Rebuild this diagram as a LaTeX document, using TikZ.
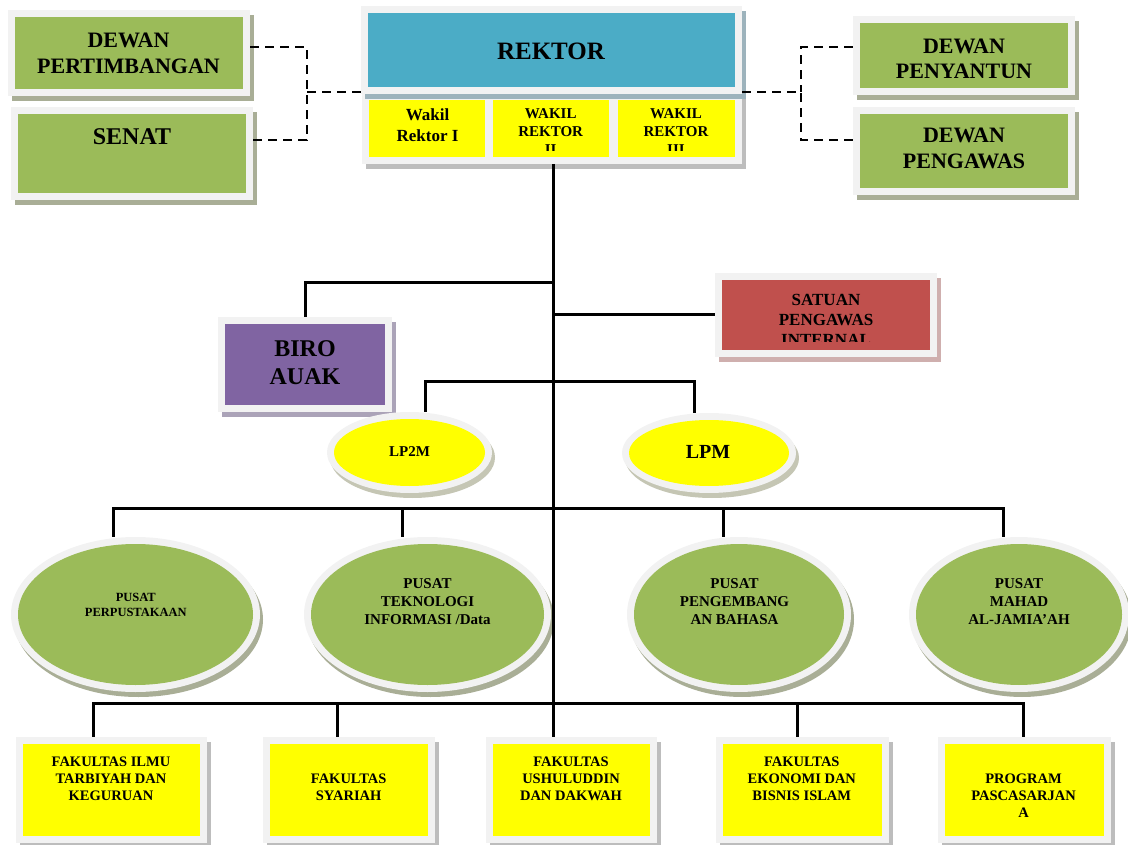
\documentclass[tikz,border=0pt]{standalone}
\usepackage{fontspec}
\setmainfont{Liberation Serif}
\usetikzlibrary{shadows,calc,shapes.geometric}
\definecolor{cgreen}{HTML}{9BBB59}
\definecolor{cblue}{HTML}{4BACC6}
\definecolor{cyellow}{HTML}{FFFF00}
\definecolor{cpurple}{HTML}{8064A2}
\definecolor{cred}{HTML}{C0504D}
\definecolor{cframe}{HTML}{F2F2F2}
\definecolor{shgreen}{HTML}{A9AE96}
\definecolor{shgrey}{HTML}{BDBDBD}
\definecolor{shblue}{HTML}{9DB3BC}
\definecolor{shpurple}{HTML}{ABA3B8}
\definecolor{shred}{HTML}{CFAFAE}
\definecolor{shyell}{HTML}{C5C6B4}
\tikzset{
  boxst/.style 2 args={rectangle, draw=none, inner sep=0pt, fill=cframe,
    path picture={\fill[#1] ([shift={(7pt,7pt)}]path picture bounding box.south west) rectangle ([shift={(-7pt,-7pt)}]path picture bounding box.north east);},
    drop shadow={shadow xshift=4pt, shadow yshift=-5pt, fill=#2, opacity=1}},
  ellst/.style 2 args={ellipse, draw=none, inner sep=0pt, fill=cframe,
    path picture={\fill[#1] let \p1=(path picture bounding box.north east), \p2=(path picture bounding box.center) in (\p2) ellipse [x radius={\x1-\x2-7pt}, y radius={\y1-\y2-7pt}];},
    drop shadow={shadow xshift=3pt, shadow yshift=-5pt, fill=#2, opacity=1}},
  lbl/.style={align=center, inner sep=0pt, text=black},
  conn/.style={line width=3pt, black},
  dconn/.style={line width=1.8pt, black, dash pattern=on 9pt off 6pt}
}
\begin{document}
\begin{tikzpicture}[x=1pt,y=-1pt]
\useasboundingbox (0,0) rectangle (1128,845);

% ---- top left
\node[boxst={cgreen}{shgreen}, minimum width=242pt, minimum height=86pt] (dp) at (129,53) {};
\node[boxst={cgreen}{shgreen}, minimum width=242pt, minimum height=93pt] (senat) at (132,153.5) {};
% ---- rektor block
\node[boxst={cyellow}{shgrey}, minimum width=130pt, minimum height=71pt] (w1) at (427,128.5) {};
\node[boxst={cyellow}{shgrey}, minimum width=130pt, minimum height=71pt] (w2) at (551,128.5) {};
\node[boxst={cyellow}{shgrey}, minimum width=131pt, minimum height=71pt] (w3) at (676.5,128.5) {};
\node[boxst={cblue}{shblue}, minimum width=381pt, minimum height=88pt] (rektor) at (551.5,50) {};
% ---- top right
\node[boxst={cgreen}{shgreen}, minimum width=222pt, minimum height=79pt] (dpy) at (964,55.5) {};
\node[boxst={cgreen}{shgreen}, minimum width=222pt, minimum height=88pt] (dpg) at (964,151) {};
% ---- middle
\node[boxst={cpurple}{shpurple}, minimum width=174pt, minimum height=95pt] (biro) at (305,364.5) {};
\node[boxst={cred}{shred}, minimum width=222pt, minimum height=84pt] (spi) at (826,315) {};
\node[ellst={cyellow}{shyell}, minimum width=165pt, minimum height=81pt] (lp2m) at (409.5,452.5) {};
\node[ellst={cyellow}{shyell}, minimum width=174pt, minimum height=80pt] (lpm) at (709,453) {};
% ---- pusat
\node[ellst={cgreen}{shgreen}, minimum width=249pt, minimum height=155pt] (p1) at (135.5,614.5) {};
\node[ellst={cgreen}{shgreen}, minimum width=247pt, minimum height=155pt] (p2) at (427.5,614.5) {};
\node[ellst={cgreen}{shgreen}, minimum width=224pt, minimum height=155pt] (p3) at (739,614.5) {};
\node[ellst={cgreen}{shgreen}, minimum width=220pt, minimum height=155pt] (p4) at (1019,614.5) {};
% ---- fakultas
\node[boxst={cyellow}{shgrey}, minimum width=191pt, minimum height=106pt] (f1) at (111.5,790) {};
\node[boxst={cyellow}{shgrey}, minimum width=172pt, minimum height=106pt] (f2) at (349,790) {};
\node[boxst={cyellow}{shgrey}, minimum width=171pt, minimum height=106pt] (f3) at (571.5,790) {};
\node[boxst={cyellow}{shgrey}, minimum width=173pt, minimum height=106pt] (f4) at (802.5,790) {};
\node[boxst={cyellow}{shgrey}, minimum width=173pt, minimum height=106pt] (f5) at (1024.5,790) {};

% ---- labels
\node[lbl, font=\fontsize{22}{26}\selectfont\bfseries] (tdp) at (128.5,53) {DEWAN\\PERTIMBANGAN};
\node[lbl, font=\fontsize{24}{28}\selectfont\bfseries] (tsenat) at (132,137) {SENAT};
\node[lbl, font=\fontsize{25}{30}\selectfont\bfseries] (trektor) at (551,51.5) {REKTOR};
\node[lbl, font=\fontsize{17}{21}\selectfont\bfseries] (tw1) at (427.5,125.5) {Wakil\\Rektor I};
\begin{scope}
\clip (493,100) rectangle (735,151);
\node[lbl, font=\fontsize{15}{18}\selectfont\bfseries] (tw2) at (550.7,131.5) {WAKIL\\REKTOR\\II};
\node[lbl, font=\fontsize{15}{18}\selectfont\bfseries] (tw3) at (676,131.5) {WAKIL\\REKTOR\\III};
\end{scope}
\begin{scope}
\clip (860,23) rectangle (1068,77.8);
\node[lbl, font=\fontsize{22}{25}\selectfont\bfseries] (tdpy) at (964,59) {DEWAN\\PENYANTUN};
\end{scope}
\node[lbl, font=\fontsize{22}{26}\selectfont\bfseries] (tdpg) at (964,148.8) {DEWAN\\PENGAWAS};
\node[lbl, font=\fontsize{24}{28}\selectfont\bfseries] (tbiro) at (305,362.5) {BIRO\\AUAK};
\begin{scope}
\clip (722,280) rectangle (930,341);
\node[lbl, font=\fontsize{17}{20}\selectfont\bfseries] (tspi) at (826,319.5) {SATUAN\\PENGAWAS\\INTERNAL};
\end{scope}
\node[lbl, font=\fontsize{15}{18}\selectfont\bfseries] (tlp2m) at (409.5,451.7) {LP2M};
\node[lbl, font=\fontsize{20}{24}\selectfont\bfseries] (tlpm) at (708,451.7) {LPM};
\node[lbl, font=\fontsize{12.5}{15}\selectfont\bfseries] (tp1) at (135.8,605) {PUSAT\\PERPUSTAKAAN};
\node[lbl, font=\fontsize{15}{18}\selectfont\bfseries] (tp2) at (427.5,602) {PUSAT\\TEKNOLOGI\\INFORMASI /Data};
\node[lbl, font=\fontsize{15}{18}\selectfont\bfseries] (tp3) at (734.5,602) {PUSAT\\PENGEMBANG\\AN BAHASA};
\node[lbl, font=\fontsize{15}{18}\selectfont\bfseries] (tp4) at (1019,602) {PUSAT\\MAHAD\\AL-JAMIA’AH};
\node[lbl, font=\fontsize{14.5}{17}\selectfont\bfseries] (tf1) at (111,778.7) {FAKULTAS ILMU\\TARBIYAH DAN\\KEGURUAN};
\node[lbl, font=\fontsize{14.5}{17}\selectfont\bfseries] (tf2) at (348.7,787) {FAKULTAS\\SYARIAH};
\node[lbl, font=\fontsize{14.5}{17}\selectfont\bfseries] (tf3) at (571,778.7) {FAKULTAS\\USHULUDDIN\\DAN DAKWAH};
\node[lbl, font=\fontsize{14.5}{17}\selectfont\bfseries] (tf4) at (801.8,778.3) {FAKULTAS\\EKONOMI DAN\\BISNIS ISLAM};
\node[lbl, font=\fontsize{14.5}{17}\selectfont\bfseries] (tf5) at (1023.6,795.8) {PROGRAM\\PASCASARJAN\\A};

% ---- dashed connectors
\coordinate (lj) at (307,92);
\coordinate (rj) at (801,92);
\draw[dconn] (rektor.west |- lj) -- (lj);
\draw[dconn] (dp.east |- 0,47) -| (lj);
\draw[dconn] (senat.east |- 0,140) -| (lj);
\draw[dconn] (rektor.east |- rj) -- (rj);
\draw[dconn] (dpy.west |- 0,47) -| (rj);
\draw[dconn] (dpg.west |- 0,140) -| (rj);

% ---- solid connectors
\coordinate (spt) at (553,164);
\coordinate (spb) at (553,703);
\draw[conn] (spt) -- (spb);
\draw[conn] (spt |- 0,283) -| (biro.north);
\draw[conn] (spt |- spi.west) -- (spi.west);
\coordinate (l1) at (425,381);
\coordinate (l2) at (694,381);
\draw[conn] (l1 |- lp2m.north) -- (l1) -- (l2) -- (l2 |- lpm.north);
\coordinate (q1) at (113,508);
\coordinate (q2) at (402,508);
\coordinate (q3) at (723,508);
\coordinate (q4) at (1003,508);
\draw[conn] (q1 |- p1.north) -- (q1) -- (q4) -- (q4 |- p4.north);
\draw[conn] (q2) -- (q2 |- p2.north);
\draw[conn] (q3) -- (q3 |- p3.north);
\coordinate (g1) at (93,703);
\coordinate (g2) at (337,703);
\coordinate (g4) at (797,703);
\coordinate (g5) at (1023,703);
\draw[conn] (g1 |- f1.north) -- (g1) -- (g5) -- (g5 |- f5.north);
\draw[conn] (g2) -- (g2 |- f2.north);
\draw[conn] (spb) -- (spb |- f3.north);
\draw[conn] (g4) -- (g4 |- f4.north);
\end{tikzpicture}
\end{document}
